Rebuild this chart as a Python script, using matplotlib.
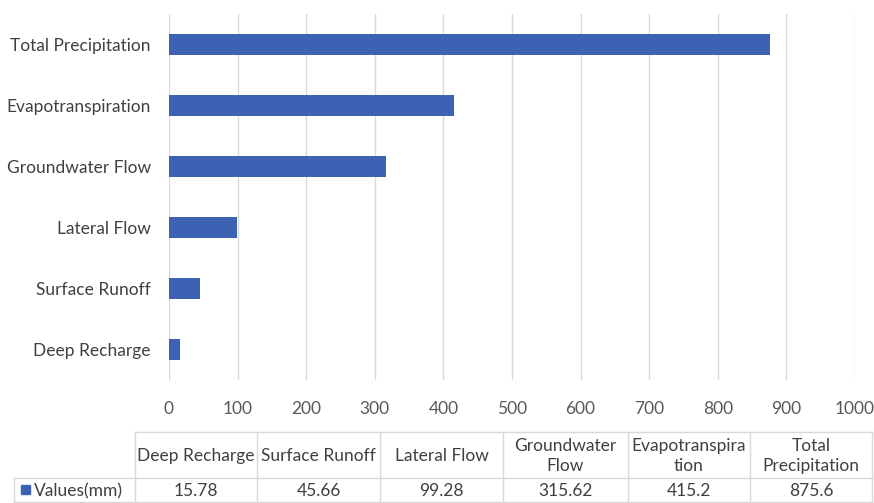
import matplotlib.pyplot as plt

plt.rcParams['font.family'] = ['Lato', 'DejaVu Sans']

# water balance components (mm), bottom to top
components = ["Deep Recharge", "Surface Runoff", "Lateral Flow",
              "Groundwater Flow", "Evapotranspiration", "Total Precipitation"]
values_mm = [15.78, 45.66, 99.28, 315.62, 415.2, 875.6]
table_headers = ["Deep Recharge", "Surface Runoff", "Lateral Flow",
                 "Groundwater\nFlow", "Evapotranspira\ntion", "Total\nPrecipitation"]
series_name = "Values(mm)"
x_ticks = list(range(0, 1001, 100))

BAR = "#3d62b3"
GRID = "#d9d9d9"
TXT = "#404040"
FS = 12.5

W, H = 874, 503
fig = plt.figure(figsize=(W / 100, H / 100), dpi=100)

ax = fig.add_axes([169 / W, 1 - 380 / H, 686 / W, 366 / H])
ax.barh(range(len(components)), values_mm, height=0.34, color=BAR, zorder=3)
ax.set_xlim(0, 1000)
ax.set_ylim(-0.5, len(components) - 0.5)
ax.set_xticks(x_ticks)
ax.set_yticks(range(len(components)))
ax.set_yticklabels(components)
ax.grid(axis="x", color=GRID, linewidth=1.0, zorder=0)
for s in ax.spines.values():
    s.set_visible(False)
ax.tick_params(axis="x", length=0, pad=15, labelsize=FS, labelcolor="#595959")
ax.tick_params(axis="y", length=0, pad=13, labelsize=FS, labelcolor=TXT)

# data table underneath, laid out in pixel coordinates
tab = fig.add_axes([0, 0, 1, 1], zorder=-1)
tab.set_xlim(0, W)
tab.set_ylim(H, 0)
tab.axis("off")

col_x = [135, 257, 380, 503, 628, 750, 872]
row_top, row_mid, row_bot = 432, 478, 502
label_left = 14
lc = dict(color=GRID, linewidth=1.0)

tab.plot([col_x[0], col_x[-1]], [row_top, row_top], **lc)
tab.plot([label_left, col_x[-1]], [row_mid, row_mid], **lc)
tab.plot([label_left, col_x[-1]], [row_bot, row_bot], **lc)
tab.plot([label_left, label_left], [row_mid, row_bot], **lc)
for x in col_x:
    tab.plot([x, x], [row_top, row_bot], **lc)

for i, (hdr, v) in enumerate(zip(table_headers, values_mm)):
    cx = (col_x[i] + col_x[i + 1]) / 2
    tab.text(cx, (row_top + row_mid) / 2 + 1, hdr, ha="center", va="center",
             fontsize=FS, color=TXT, linespacing=1.3)
    tab.text(cx, (row_mid + row_bot) / 2 + 1, f"{v:g}", ha="center", va="center",
             fontsize=FS, color=TXT)

tab.add_patch(plt.Rectangle((21, 485), 9, 9, color=BAR))
tab.text(34, (row_mid + row_bot) / 2 + 1, series_name, ha="left", va="center",
         fontsize=FS, color=TXT)

fig.savefig("out.png", dpi=100, facecolor="white")
